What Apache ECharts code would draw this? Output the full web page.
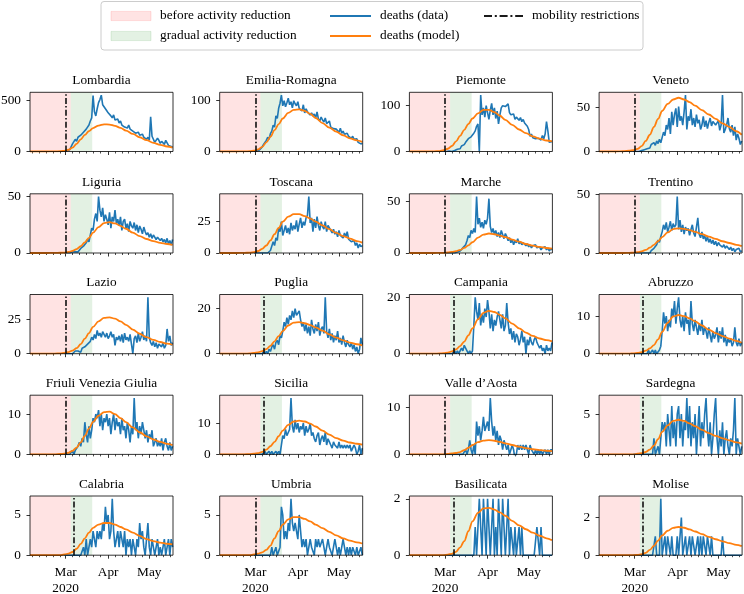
<!DOCTYPE html>
<html><head><meta charset="utf-8">
<script src="https://cdn.jsdelivr.net/npm/echarts@6/dist/echarts.min.js"></script>
<style>html,body{margin:0;padding:0;background:#fff}#c{width:744px;height:594px}</style>
</head><body><div id="c"></div>
<script>
// ---------- data ----------
const regions = ['Lombardia','Emilia-Romagna','Piemonte','Veneto','Liguria','Toscana','Marche','Trentino',
  'Lazio','Puglia','Campania','Abruzzo','Friuli Venezia Giulia','Sicilia','Valle d\u2019Aosta','Sardegna',
  'Calabria','Umbria','Basilicata','Molise'];
const yTicks = [500,100,100,50,50,25,50,50,25,20,20,10,10,10,10,5,5,5,2,2];
const mobilityDay = [26,26,26,26,26,26,26,26,26,32,32,32,26,32,26,32,32,26,32,32];
const beforeEnd = 29.7;      // end of "before activity reduction"
const gradualEnd = 45.4;     // end of "gradual activity reduction"
const monthTickDays = [26,57,87];
const monthTickLabels = ['Mar\n2020','Apr','May'];
const minorTickDays = [2,7,12,17,22,31,36,41,46,51,62,67,72,77,82,92,97,102];
const dayMax = 104.3;

// daily deaths (data), day 25 .. 104
const dataStartDay = 25;
const lombardia = [3,6,10,14,18,30,75,60,120,100, 140,125,160,150,190,175,220,210,260,300,
  330,550,390,350,420,480,510,554,460,440, 430,400,380,390,350,330,360,310,300,320,
  280,300,260,270,240,250,230,260,220,210, 200,215,180,170,190,160,150,170,140,130,
  120,140,110,340,150,120,90,100,130,110, 80,100,90,70,110,120,60,70,50,40];
const emilia = [0,1,1,2,3,5,9,14,17,22, 28,24,35,40,52,48,70,65,85,95,
  111,90,100,88,96,105,92,98,86,100, 94,90,98,85,88,80,92,76,84,78,
  80,72,76,70,74,66,78,64,60,68, 62,58,66,55,52,60,48,50,45,47,
  44,42,38,46,36,40,34,32,36,30, 28,26,30,24,22,25,18,20,15,16];
const piemonte = [0,0,0,0,1,2,0,3,2,4, 5,8,6,12,10,15,20,18,28,25,
  32,30,40,45,55,60,0,123,80,95, 75,100,85,70,90,105,80,95,72,88,
  60,80,95,100,102,98,100,104,85,80, 76,82,70,75,72,68,74,65,70,62,
  60,55,48,33,38,30,34,28,32,29, 30,25,35,28,38,65,45,20,18,22];
const veneto = [0,0,0,1,0,2,1,3,2,4, 3,5,4,8,6,10,7,12,9,14,
  10,16,22,18,30,25,38,20,45,30, 42,49,28,51,35,40,30,45,64,25,
  40,35,48,30,38,28,42,32,36,25, 30,40,28,35,26,33,38,29,34,36,
  30,28,35,24,30,64,21,25,30,38, 26,22,30,18,28,13,20,15,8,12];
const liguria = [0,0,0,0,0,0,1,0,1,0, 1,2,4,3,6,5,9,12,10,16,
  22,20,30,35,28,50,38,32,40,28, 34,30,25,36,22,32,28,38,26,30,
  24,32,20,28,30,22,26,19,28,24, 22,27,20,25,18,24,21,17,23,19,
  16,18,14,17,13,16,15,12,14,13, 11,13,10,12,9,13,8,11,7,12];
const toscana = [0,0,0,0,0,0,0,0,0,1, 0,1,2,1,9,6,12,10,20,17,
  25,14,18,22,16,20,15,24,18,22, 19,26,17,23,28,20,25,22,28,30,
  45,24,28,17,27,20,29,22,18,25, 21,19,25,17,22,20,18,16,19,15,
  17,13,18,14,15,12,16,13,17,11, 12,9,8,10,6,8,4,7,5,6];
const marche = [0,0,0,0,0,0,0,1,0,0, 1,0,2,3,5,4,8,12,17,15,
  22,19,24,20,55,28,34,25,30,24, 32,28,34,53,26,20,24,18,22,16,
  20,15,22,18,14,19,16,12,15,10, 13,8,12,10,14,9,11,8,10,9,
  7,9,6,8,5,7,6,8,5,4, 6,3,5,4,6,3,5,2,4,3];
const trentino = [0,0,0,0,0,0,0,0,0,0, 0,1,0,2,1,4,3,7,11,9,
  14,18,24,20,26,18,22,27,19,25, 22,24,48,20,28,18,24,16,22,19,
  21,15,20,24,17,14,22,30,16,13, 18,12,15,10,14,9,12,8,11,7,
  10,6,9,7,8,5,7,4,6,5, 3,5,2,4,1,3,2,4,1,2];
const lazio = [0,0,0,0,0,1,0,1,2,1, 2,3,1,4,3,5,4,7,6,9,
  12,10,14,11,17,13,15,12,16,14, 12,15,11,13,16,12,14,6,12,10,
  13,9,14,8,15,10,12,9,14,7, 0,11,13,8,15,9,12,16,10,13,
  9,41,12,8,6,9,5,8,4,7, 6,5,8,4,6,18,9,13,6,8];
const puglia = [0,0,0,0,0,0,0,1,0,1, 0,2,1,3,4,2,5,6,4,8,
  7,10,14,12,16,13,17,15,19,16, 20,17,18,19,15,12,14,10,13,9,
  12,8,15,11,9,13,10,14,8,11, 12,9,25,10,7,11,6,9,5,8,
  6,10,5,7,4,8,5,3,6,4, 3,5,2,4,1,3,0,2,7,4];
const campania = [0,0,0,0,0,0,0,0,1,0, 1,0,1,2,1,3,2,1,0,1,
  0,1,10,20,15,12,18,10,14,11, 16,13,19,15,9,14,8,12,10,13,
  15,12,9,14,8,10,18,11,7,9, 5,8,4,7,6,3,5,8,4,6,
  0,5,3,6,4,3,5,6,4,3, 2,3,1,2,0,3,1,2,1,4];
const abruzzo = [0,0,0,0,0,0,0,0,0,0, 0,1,0,0,1,0,1,0,0,1,
  2,6,11,8,10,6,9,7,12,10, 14,8,12,15,9,7,10,6,11,8,
  9,5,14,8,6,9,7,5,8,6, 9,5,7,6,4,7,5,3,6,4,
  5,7,3,6,4,7,3,5,2,4, 3,4,2,3,7,3,2,4,2,3];
const friuli = [0,0,0,0,0,0,1,0,1,1, 2,3,2,4,3,8,5,3,7,4,
  6,9,8,10,9,11,7,10,6,9, 8,10,7,9,5,8,10,6,9,7,
  8,5,9,6,7,4,8,6,3,7, 5,14,6,8,4,7,5,8,6,4,
  6,3,5,4,6,2,3,4,2,3, 2,4,1,3,4,2,1,3,1,2];
const sicilia = [0,0,0,0,0,0,0,0,1,0, 0,1,0,1,0,0,1,0,1,0,
  0,6,5,8,6,7,8,18,9,7, 11,8,10,7,9,8,10,6,9,7,
  8,10,6,7,5,4,6,7,3,5, 6,4,7,3,5,4,3,2,4,3,
  3,2,4,2,3,2,3,2,3,2, 3,1,2,3,2,0,1,3,0,2];
const valleAosta = [0,0,0,0,0,0,0,0,0,0, 0,0,0,0,0,0,1,0,1,3,
  1,0,2,0,7,4,6,3,5,8, 5,6,7,5,12,7,4,6,3,5,
  2,4,3,1,3,2,1,2,0,1, 2,1,-1,0,2,1,2,1,2,1,
  2,1,0,2,1,1,0,1,0,1, 0,1,0,0,1,0,1,0,1,1];
const sardegna = [0,0,0,0,0,0,0,0,0,0, 0,0,0,0,0,2,0,0,1,0,
  2,4,3,4,1,5,3,1,6,2, 4,1,5,6,2,5,1,4,3,7,
  2,6,1,4,2,5,0,3,6,1, 4,2,5,7,3,1,4,0,2,5,
  7,2,0,3,1,4,0,2,3,1, 0,2,1,3,7,0,2,1,0,1];
const calabria = [0,0,0,0,0,0,0,0,0,0, 0,0,0,0,1,0,2,0,1,2,
  1,3,2,1,3,2,3,2,4,3, 6,4,5,2,3,7,3,1,2,3,
  1,3,2,1,3,0,2,1,2,0, 2,1,0,2,1,4,2,3,1,0,
  2,4,1,0,2,1,0,1,2,0, 1,0,1,2,0,1,2,0,2,1];
const umbria = [0,0,0,0,0,0,0,0,0,0, 0,0,0,1,0,0,1,0,0,1,
  6,5,2,3,2,4,3,7,4,3, 4,3,2,5,3,1,2,1,2,0,
  1,2,1,1,0,2,1,2,1,1, 2,1,0,1,2,1,1,0,1,2,
  1,0,1,0,1,2,1,0,1,0, 1,0,1,1,0,1,0,0,1,0];
const basilicata = [0,0,0,0,0,0,0,0,0,0, 0,0,0,0,0,0,0,0,0,0,
  0,0,0,1,0,1,2,2,0,2, 1,0,2,1,0,1,2,0,1,0,
  2,1,0,2,1,0,1,2,0,1, 1,0,1,0,0,1,0,1,0,0,
  0,0,0,0,0,0,0,0,1,1, 0,1,0,0,0,0,0,0,0,0];
const molise = [0,0,0,0,0,0,0,0,0,0, 0,0,0,0,0,0,1,0,0,0,
  3,0,0,1,0,1,1,0,1,0, 0,0,1,0,1,2,0,0,1,0,
  0,1,0,1,1,0,0,1,0,1, 0,1,1,0,1,1,0,1,0,0,
  0,0,0,0,0,1,0,0,0,0, 0,0,0,0,0,0,0,0,0,0];
const deathsData = [lombardia,emilia,piemonte,veneto,liguria,toscana,marche,trentino,lazio,puglia,
  campania,abruzzo,friuli,sicilia,valleAosta,sardegna,calabria,umbria,basilicata,molise];

// model curves, sampled at modelDays
const modelDays = [0,12,18,22,25,28,31,34,37,40,43,46,50,54,58,62,66,70,75,80,85,90,95,100,104];
const lombardiaModel = [0,0,1,3,7,17,38,75,120,163,200,230,255,267,265,252,232,206,173,140,111,85,65,49,39];
const emiliaModel = [0,0,0.2,0.6,1.5,4,9,18,29,42,54,65,76,82,83,80,74,66,56,47,39,32,26,22,19];
const piemonteModel = [0,0,0.3,1,3,6,12,22,34,47,60,72,83,91,91,86,78,69,58,48,40,33,28,24,22];
const venetoModel = [0,0,0.3,1,1.5,3,6,12,19,28,37,46,54,59,61,59,56,52,47,42,37,32,28,23,19];
const liguriaModel = [0,0,0.1,0.2,0.4,0.9,1.8,3.5,6,9.5,13.5,18,23,26.5,27.3,26.3,24,21.5,18,15,12.4,10.5,9,8,7.3];
const toscanaModel = [0,0,0.1,0.3,0.7,1.6,3.3,6,10,15,20,25,29,31,31,29.5,27.5,25,22,19,16,13.5,11.5,9.5,8.3];
const marcheModel = [0,0,0,0.1,0.2,0.5,1,1.8,3,5,7.5,10.5,15,18,19,18.3,17,15.5,13,11,8.8,7.2,5.9,4.9,4.2];
const trentinoModel = [0,0,0,0.1,0.3,0.7,1.4,2.6,4.5,7,10,13.5,17.5,20.3,21,20.5,19.5,18,16,14,12,10,8.5,7,5.9];
const lazioModel = [0,0,0.1,0.3,0.6,1.2,2.3,4,7,11,15,19.5,23.5,26,26.4,25.5,23.5,21,17.5,14.5,12,10,8.5,7.3,6.5];
const pugliaModel = [0,0,0,0.1,0.3,0.6,1.1,2,3.5,5.5,7.8,10,12.5,13.8,14,13.5,12.7,11.7,10.2,8.6,7.1,5.9,4.9,4.2,3.7];
const campaniaModel = [0,0,0,0.1,0.2,0.4,0.8,1.5,2.7,4.3,6.5,9,12.2,14.5,15.2,14.8,13.8,12.5,10.7,9,7.5,6.3,5.4,4.8,4.4];
const abruzzoModel = [0,0,0,0,0.1,0.2,0.4,0.8,1.4,2.3,3.8,5.8,8.2,9.9,10.3,10,9.4,8.6,7.5,6.4,5.5,4.7,4,3.4,2.9];
const friuliModel = [0,0,0,0.1,0.2,0.4,0.9,1.7,3,4.6,6.4,8.1,9.6,10.5,10.6,10,9,8,6.7,5.5,4.5,3.7,3.1,2.6,2.3];
const siciliaModel = [0,0,0,0.1,0.2,0.4,0.8,1.5,2.6,4,5.8,7.6,9.4,10.5,10.8,10.5,9.8,8.9,7.6,6.3,5.2,4.4,3.8,3.4,3.1];
const valleAostaModel = [0,0,0,0,0,0.1,0.2,0.3,0.5,0.9,1.4,2,2.6,2.95,3.05,2.9,2.65,2.35,2,1.65,1.35,1.1,0.9,0.78,0.7];
const sardegnaModel = [0,0,0,0,0,0.1,0.15,0.3,0.6,1.1,1.9,2.8,3.6,4.15,4.3,4.15,3.85,3.5,3.05,2.65,2.3,2,1.75,1.5,1.35];
const calabriaModel = [0,0,0,0,0.1,0.2,0.4,0.8,1.4,2.1,2.8,3.4,3.8,4,4,3.8,3.5,3.2,2.8,2.4,2,1.75,1.55,1.42,1.33];
const umbriaModel = [0,0,0,0,0.1,0.2,0.35,0.65,1.2,2.1,3,3.8,4.45,4.72,4.72,4.5,4.2,3.8,3.35,2.9,2.45,2.1,1.8,1.6,1.45];
const basilicataModel = [0,0,0,0,0,0.02,0.05,0.12,0.28,0.5,0.85,1.2,1.5,1.66,1.68,1.62,1.52,1.4,1.22,1.06,0.92,0.8,0.69,0.6,0.53];
const moliseModel = [0,0,0,0,0,0.02,0.05,0.12,0.28,0.5,0.78,1.05,1.3,1.45,1.5,1.46,1.37,1.26,1.12,0.98,0.85,0.74,0.64,0.55,0.48];
const deathsModel = [lombardiaModel,emiliaModel,piemonteModel,venetoModel,liguriaModel,toscanaModel,marcheModel,
  trentinoModel,lazioModel,pugliaModel,campaniaModel,abruzzoModel,friuliModel,siciliaModel,valleAostaModel,
  sardegnaModel,calabriaModel,umbriaModel,basilicataModel,moliseModel];

const legendLabels = ['before activity reduction','gradual activity reduction','deaths (data)','deaths (model)','mobility restrictions'];

// ---------- layout / style ----------
const FONT = '"Liberation Serif","DejaVu Serif",serif';
const BLUE = '#1f77b4', ORANGE = '#ff7f0e';
const RED_FILL = 'rgba(255,0,0,0.11)', GREEN_FILL = 'rgba(0,128,0,0.11)';
const colLeft = [30, 219.7, 409.4, 599.1];
const rowTop = [92.3, 193.8, 294.5, 395.2, 496];
const W = 143, H = 59.2;
const DASHDOT = [6, 2.2, 1.5, 2.2];

const grid = [], xAxis = [], yAxis = [], series = [], graphic = [];
regions.forEach((name, i) => {
  const r = Math.floor(i / 4), c = i % 4;
  const left = colLeft[c], top = rowTop[r];
  const bottomRow = r === 4;
  grid.push({left, top, width: W, height: H, containLabel: false, outerBoundsMode: 'none'});
  const vals = deathsData[i], mod = deathsModel[i];
  const ymax = 1.05 * Math.max(Math.max(...vals), Math.max(...mod));
  // major ticks + labels
  xAxis.push({type: 'value', gridIndex: i, min: 0, max: dayMax, position: 'bottom',
    axisLine: {show: false}, splitLine: {show: false},
    axisTick: {show: true, customValues: monthTickDays, length: 3.5, lineStyle: {color: '#000', width: 0.8}},
    axisLabel: {show: bottomRow, customValues: monthTickDays,
      formatter: v => monthTickLabels[monthTickDays.indexOf(Math.round(v))] || '',
      fontFamily: FONT, fontSize: 13.3, color: '#000', margin: 9, lineHeight: 16}});
  // minor ticks
  xAxis.push({type: 'value', gridIndex: i, min: 0, max: dayMax, position: 'bottom',
    axisLine: {show: false}, splitLine: {show: false},
    axisTick: {show: true, customValues: minorTickDays, length: 2, lineStyle: {color: '#000', width: 0.7}},
    axisLabel: {show: false}});
  yAxis.push({type: 'value', gridIndex: i, min: 0, max: ymax,
    axisLine: {show: false}, splitLine: {show: false},
    axisTick: {show: true, customValues: [0, yTicks[i]], length: 3.5, lineStyle: {color: '#000', width: 0.8}},
    axisLabel: {customValues: [0, yTicks[i]], fontFamily: FONT, fontSize: 13.3, color: '#000', margin: 9}});
  // shading + mobility line
  series.push({type: 'line', xAxisIndex: 2 * i, yAxisIndex: i, data: [], z: 1, silent: true,
    markArea: {silent: true, label: {show: false},
      data: [[{xAxis: 0, itemStyle: {color: RED_FILL}}, {xAxis: beforeEnd}],
             [{xAxis: beforeEnd, itemStyle: {color: GREEN_FILL}}, {xAxis: gradualEnd}]]},
    markLine: {silent: true, symbol: ['none','none'], label: {show: false},
      lineStyle: {color: '#111', width: 1.6, type: DASHDOT},
      data: [{xAxis: mobilityDay[i]}]}});
  series.push({type: 'line', name: 'data', xAxisIndex: 2 * i, yAxisIndex: i, z: 2, showSymbol: false,
    data: vals.map((v, k) => [dataStartDay + k, v]),
    lineStyle: {color: BLUE, width: 1.6}, itemStyle: {color: BLUE}});
  series.push({type: 'line', name: 'model', xAxisIndex: 2 * i, yAxisIndex: i, z: 3, showSymbol: false,
    smooth: 0.35, smoothMonotone: 'x',
    data: mod.map((v, k) => [modelDays[k], v]),
    lineStyle: {color: ORANGE, width: 1.8}, itemStyle: {color: ORANGE}});
  graphic.push({type: 'rect', z: 100, silent: true, shape: {x: left, y: top, width: W, height: H},
    style: {fill: null, stroke: '#000', lineWidth: 0.8}});
  graphic.push({type: 'text', z: 100, silent: true, x: left + W / 2, y: top - 11.5,
    style: {text: name, font: '13.3px ' + FONT, fill: '#000', align: 'center', verticalAlign: 'middle'}});
});

// legend
const LX = 101, LY = 1.5, LW = 542, LH = 48.5;
graphic.push({type: 'rect', z: 100, silent: true, shape: {x: LX, y: LY, width: LW, height: LH, r: 3},
  style: {fill: 'rgba(255,255,255,0.8)', stroke: '#cccccc', lineWidth: 1}});
const rowsY = [16, 36];
graphic.push({type: 'rect', z: 101, shape: {x: 111, y: rowsY[0] - 4.6, width: 40, height: 9.2}, style: {fill: RED_FILL, stroke: RED_FILL}});
graphic.push({type: 'rect', z: 101, shape: {x: 111, y: rowsY[1] - 4.6, width: 40, height: 9.2}, style: {fill: GREEN_FILL, stroke: GREEN_FILL}});
graphic.push({type: 'line', z: 101, shape: {x1: 330, y1: rowsY[0], x2: 371, y2: rowsY[0]}, style: {stroke: BLUE, lineWidth: 2}});
graphic.push({type: 'line', z: 101, shape: {x1: 330, y1: rowsY[1], x2: 371, y2: rowsY[1]}, style: {stroke: ORANGE, lineWidth: 2}});
graphic.push({type: 'line', z: 101, shape: {x1: 484, y1: rowsY[0], x2: 523, y2: rowsY[0]}, style: {stroke: '#1a1a1a', lineWidth: 2, lineDash: [8, 2.8, 2, 2.8]}});
const legendPos = [[160, rowsY[0]], [160, rowsY[1]], [380, rowsY[0]], [380, rowsY[1]], [532, rowsY[0]]];
legendLabels.forEach((t, k) => {
  graphic.push({type: 'text', z: 101, x: legendPos[k][0], y: legendPos[k][1],
    style: {text: t, font: '13.3px ' + FONT, fill: '#000', align: 'left', verticalAlign: 'middle'}});
});

const chart = echarts.init(document.getElementById('c'), null, {renderer: 'canvas'});
chart.setOption({animation: false, backgroundColor: '#fff', grid, xAxis, yAxis, series, graphic});
</script></body></html>
